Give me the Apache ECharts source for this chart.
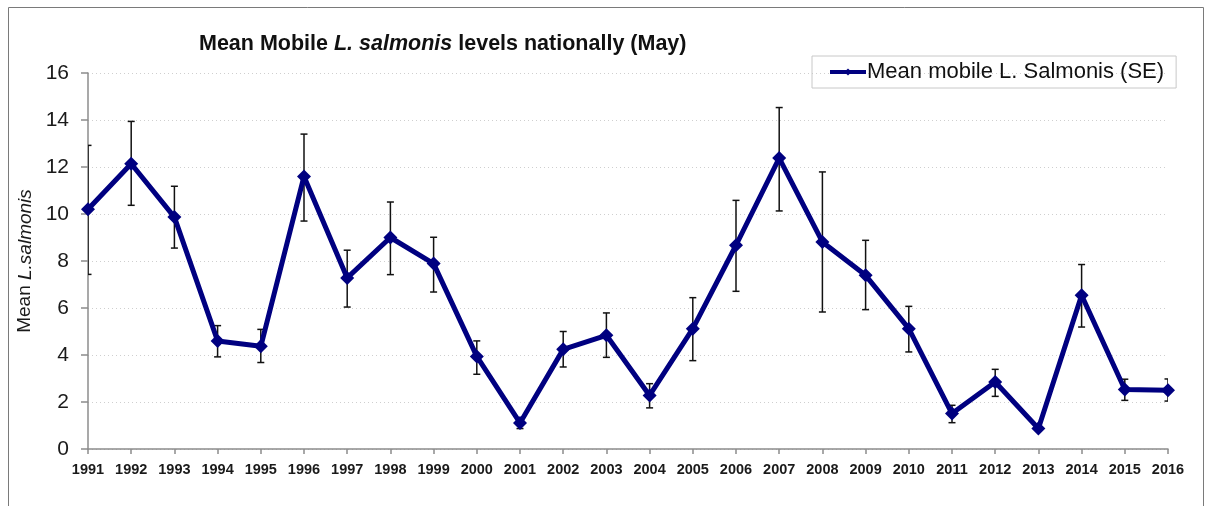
<!DOCTYPE html>
<html>
<head>
<meta charset="utf-8">
<script src="https://cdn.jsdelivr.net/npm/echarts@6/dist/echarts.min.js"></script>
<style>
  html, body { margin: 0; padding: 0; background: #fff; }
  #chart { width: 1208px; height: 506px; }
</style>
</head>
<body>
<div id="chart"></div>
<script>
const years = ['1991', '1992', '1993', '1994', '1995', '1996', '1997', '1998', '1999', '2000',
  '2001', '2002', '2003', '2004', '2005', '2006', '2007', '2008', '2009', '2010',
  '2011', '2012', '2013', '2014', '2015', '2016']
const meanLice = [10.2, 12.14, 9.87, 4.6, 4.37, 11.6, 7.28, 9.0, 7.89, 3.94,
  1.11, 4.24, 4.84, 2.28, 5.12, 8.67, 12.38, 8.81, 7.39, 5.12,
  1.51, 2.85, 0.87, 6.54, 2.53, 2.5]
const seUpper = [12.92, 13.94, 11.18, 5.25, 5.09, 13.4, 8.46, 10.51, 9.01, 4.6,
  1.26, 5.0, 5.79, 2.78, 6.44, 10.58, 14.53, 11.79, 8.88, 6.07,
  1.86, 3.39, 0.95, 7.85, 2.97, 2.98]
const seLower = [7.43, 10.37, 8.55, 3.92, 3.68, 9.7, 6.04, 7.42, 6.68, 3.18,
  0.87, 3.49, 3.9, 1.75, 3.76, 6.71, 10.13, 5.83, 5.93, 4.13,
  1.12, 2.24, 0.8, 5.19, 2.07, 2.04]

const font = '"Liberation Sans", Arial, sans-serif'
const chart = echarts.init(document.getElementById('chart'))

const errorData = years.map((y, i) => [i, seLower[i], seUpper[i]])

chart.setOption({
  backgroundColor: '#fff',
  animation: false,
  graphic: [
    {
      type: 'rect',
      shape: { x: 8.5, y: 7.5, width: 1195, height: 520 },
      style: { fill: 'none', stroke: '#7a7a7a', lineWidth: 1 },
      silent: true
    }
  ],
  title: {
    text: '{b|Mean Mobile }{bi|L. salmonis}{b| levels nationally (May)}',
    left: 194,
    top: 28,
    textStyle: {
      rich: {
        b: { fontFamily: font, fontWeight: 'bold', fontSize: 21.5, color: '#111' },
        bi: { fontFamily: font, fontWeight: 'bold', fontStyle: 'italic', fontSize: 21.5, color: '#111' }
      }
    }
  },
  legend: {
    data: ['Mean mobile L. Salmonis (SE)'],
    left: 812,
    top: 56,
    padding: [5, 12, 5, 16],
    borderColor: '#c8c8c8',
    borderWidth: 1,
    itemWidth: 36,
    itemHeight: 9,
    itemGap: 4,
    lineStyle: { width: 4 },
    textStyle: { fontFamily: font, fontSize: 22, color: '#111', padding: [0, 0, 0, -4] }
  },
  grid: { left: 88, right: 40, top: 73, bottom: 57 },
  xAxis: {
    type: 'category',
    data: years,
    boundaryGap: false,
    axisLine: { lineStyle: { color: '#8c8c8c', width: 1.5 } },
    axisTick: { alignWithLabel: true, length: 5, lineStyle: { color: '#8c8c8c', width: 1.5 } },
    axisLabel: { fontFamily: font, fontWeight: 'bold', fontSize: 14.5, color: '#1a1a1a', margin: 13, interval: 0 },
    splitLine: { show: false }
  },
  yAxis: {
    type: 'value',
    min: 0,
    max: 16,
    interval: 2,
    name: '{n|Mean }{i|L.salmonis}',
    nameLocation: 'middle',
    nameGap: 46,
    nameRotate: 90,
    nameTextStyle: {
      rich: {
        n: { fontFamily: font, fontSize: 19, color: '#1a1a1a' },
        i: { fontFamily: font, fontSize: 19, fontStyle: 'italic', color: '#1a1a1a' }
      }
    },
    axisLine: { show: true, lineStyle: { color: '#8c8c8c', width: 1.5 } },
    axisTick: { show: true, length: 7, lineStyle: { color: '#8c8c8c', width: 1.5 } },
    axisLabel: { fontFamily: font, fontSize: 21, color: '#1a1a1a', margin: 19 },
    splitLine: { lineStyle: { color: '#cfcfcf', type: [1, 3], width: 1 } }
  },
  series: [
    {
      name: 'Mean mobile L. Salmonis (SE)',
      type: 'line',
      data: meanLice,
      z: 3,
      symbol: 'diamond',
      symbolSize: 14,
      lineStyle: { color: '#000080', width: 5 },
      itemStyle: { color: '#000080' }
    },
    {
      name: 'SE',
      type: 'custom',
      data: errorData,
      z: 2,
      clip: true,
      encode: { x: 0, y: [1, 2] },
      renderItem: (params, api) => {
        const i = api.value(0)
        const lo = api.coord([i, api.value(1)])
        const hi = api.coord([i, api.value(2)])
        const half = 3.5
        const style = { stroke: '#111', lineWidth: 1.5, fill: 'none' }
        return {
          type: 'group',
          children: [
            { type: 'line', shape: { x1: hi[0], y1: hi[1], x2: lo[0], y2: lo[1] }, style },
            { type: 'line', shape: { x1: hi[0] - half, y1: hi[1], x2: hi[0] + half, y2: hi[1] }, style },
            { type: 'line', shape: { x1: lo[0] - half, y1: lo[1], x2: lo[0] + half, y2: lo[1] }, style }
          ]
        }
      }
    }
  ]
})
</script>
</body>
</html>
